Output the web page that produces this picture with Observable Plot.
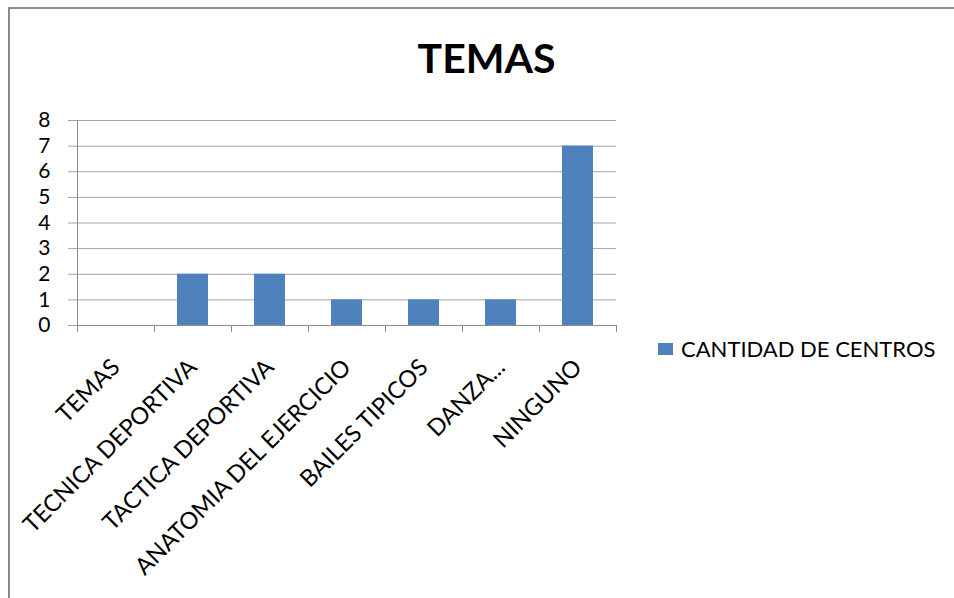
<!DOCTYPE html>
<html><head><meta charset="utf-8">
<script src="https://cdn.jsdelivr.net/npm/d3@7"></script>
<script src="https://cdn.jsdelivr.net/npm/@observablehq/plot@0.6"></script>
<style>
html,body{margin:0;padding:0;background:#fff;}
#wrap{position:relative;width:954px;height:598px;overflow:hidden;font-family:Lato,sans-serif;background:#fff;}
#frame{position:absolute;left:8px;top:7px;width:1000px;height:700px;border:2px solid #8c8c8c;box-sizing:border-box;}
#chart{position:absolute;left:0;top:0;}
#title{position:absolute;left:0;width:973px;top:37px;text-align:center;font-weight:bold;font-size:41px;line-height:41px;color:#000;}
#legend{position:absolute;left:658px;top:332px;width:290px;white-space:nowrap;}
#legend *{white-space:nowrap;}
#legend svg{margin-right:8px !important;}
</style></head>
<body><div id="wrap"><div id="frame"></div><div id="chart"></div><div id="title">TEMAS</div><div id="legend"></div></div>
<script>
const titleText = "TEMAS";
const categories = ["TEMAS", "TECNICA DEPORTIVA", "TACTICA DEPORTIVA", "ANATOMIA DEL EJERCICIO", "BAILES TIPICOS", "DANZA...", "NINGUNO"];
const values = [0, 2, 2, 1, 1, 1, 7];
const yTicks = [0, 1, 2, 3, 4, 5, 6, 7, 8];
const seriesName = "CANTIDAD DE CENTROS";
const barColor = "#4F81BD";
const gridColor = "#a3a3a3";
const axisColor = "#8c8c8c";

const data = categories.map((c, i) => ({tema: c, valor: values[i], serie: seriesName}));
const half = 77 / 2;

const plot = Plot.plot({
  width: 954, height: 598,
  marginLeft: 77, marginRight: 338, marginTop: 120, marginBottom: 273,
  style: {fontFamily: "Lato, sans-serif", fontSize: "23px", color: "#000", background: "transparent", overflow: "visible"},
  x: {domain: categories, padding: 0},
  y: {domain: [0, 8]},
  color: {domain: [seriesName], range: [barColor]},
  marks: [
    Plot.gridY(yTicks, {stroke: gridColor, strokeOpacity: 1}),
    Plot.axisY(yTicks, {tickSize: 9, tickPadding: 18, stroke: gridColor, strokeOpacity: 1, fontSize: 21, tickFormat: d => String(d), label: null}),
    Plot.barY(data, {x: "tema", y: "valor", fill: "serie", insetLeft: 23, insetRight: 23}),
    Plot.ruleX([categories[0]], {dx: -half, stroke: axisColor}),
    Plot.ruleY([0], {stroke: axisColor}),
    Plot.axisX({tickSize: 7, dx: -half, fill: "none", stroke: axisColor, label: null}),
    Plot.axisX([categories[categories.length - 1]], {tickSize: 7, dx: half, fill: "none", stroke: axisColor, label: null}),
    Plot.axisX({tickSize: 0, tickPadding: 38, tickRotate: -45, dx: 0, fontSize: 23.5, label: null})
  ]
});
document.getElementById("chart").appendChild(plot);
document.getElementById("title").textContent = titleText;

const legend = Plot.legend({
  color: {domain: [seriesName], range: [barColor]},
  swatchWidth: 15, swatchHeight: 12,
  style: {fontFamily: "Lato, sans-serif", fontSize: "22px", color: "#000", whiteSpace: "nowrap"}
});
document.getElementById("legend").appendChild(legend);
</script>
</body></html>
